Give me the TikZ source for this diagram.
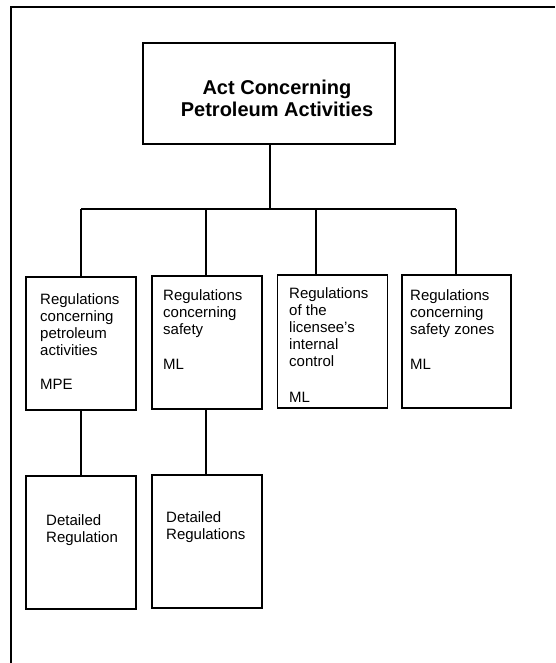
\documentclass[tikz,border=0pt]{standalone}
\usepackage{fontspec}
\setmainfont{Liberation Sans}
\usetikzlibrary{positioning}

\tikzset{
  box/.style={draw, line width=1.4pt, inner sep=0pt, outer sep=0pt,
    minimum width=110pt, minimum height=133pt},
  actbox/.style={box, minimum width=252pt, minimum height=101pt},
  regtext/.style={inner sep=0pt, anchor=base west, align=left,
    font=\fontsize{15}{17}\selectfont},
  acttext/.style={inner sep=0pt, anchor=base, align=center,
    font=\fontsize{20}{22}\selectfont\bfseries},
  link/.style={line width=1.2pt}
}

\begin{document}
\begin{tikzpicture}[x=1pt, y=-1pt]
 \useasboundingbox (0,0) rectangle (555,663);
 % outer frame (only left and top edge show)
 \draw [line width=1.6pt] (11,663) -- (11,7) -- (555,7);

 % the act at the top (texts sit on their last baseline)
 \node [actbox] (act) at (269,93.5) {};
 \node [acttext] (actname) at (277,117) {Act Concerning\\Petroleum Activities};

 % the four sets of regulations
 \node [box] (r1) at (81,343.5) {};
 \node [box] (r2) at (207,342.5) {};
 \node [box] (r3) at (332.5,341.5) {};
 \node [box, minimum width=109pt] (r4) at (456.5,341.5) {};

 \node [regtext] (r1text) at (40,389) {Regulations\\concerning\\petroleum\\activities\\[17pt]MPE};
 \node [regtext] (r2text) at (163,369) {Regulations\\concerning\\safety\\[18pt]ML};
 \node [regtext] (r3text) at (289,402) {Regulations\\of the\\licensee's\\internal\\control\\[19pt]ML};
 \node [regtext] (r4text) at (410,369) {Regulations\\concerning\\safety zones\\[18pt]ML};

 % detailed regulations below
 \node [box] (d1) at (81,542.5) {};
 \node [box] (d2) at (207,541.5) {};
 \node [regtext] (d1text) at (46,542) {Detailed\\Regulation};
 \node [regtext] (d2text) at (166,539) {Detailed\\Regulations};

 % connecting lines
 \coordinate (b1) at (81,209);
 \coordinate (b2) at (206,209);
 \coordinate (b3) at (316,209);
 \coordinate (b4) at (456,209);
 \draw [link] (b1) -- (b4);
 \draw [link] (act.south -| 270,0) -- (b1 -| 270,0);
 \draw [link] (b1) -- (b1 |- r1.north);
 \draw [link] (b2) -- (b2 |- r2.north);
 \draw [link] (b3) -- (b3 |- r3.north);
 \draw [link] (b4) -- (b4 |- r4.north);
 \draw [link] (r1.south) -- (d1.north);
 \draw [link] (r2.south -| b2) -- (d2.north -| b2);
\end{tikzpicture}
\end{document}
